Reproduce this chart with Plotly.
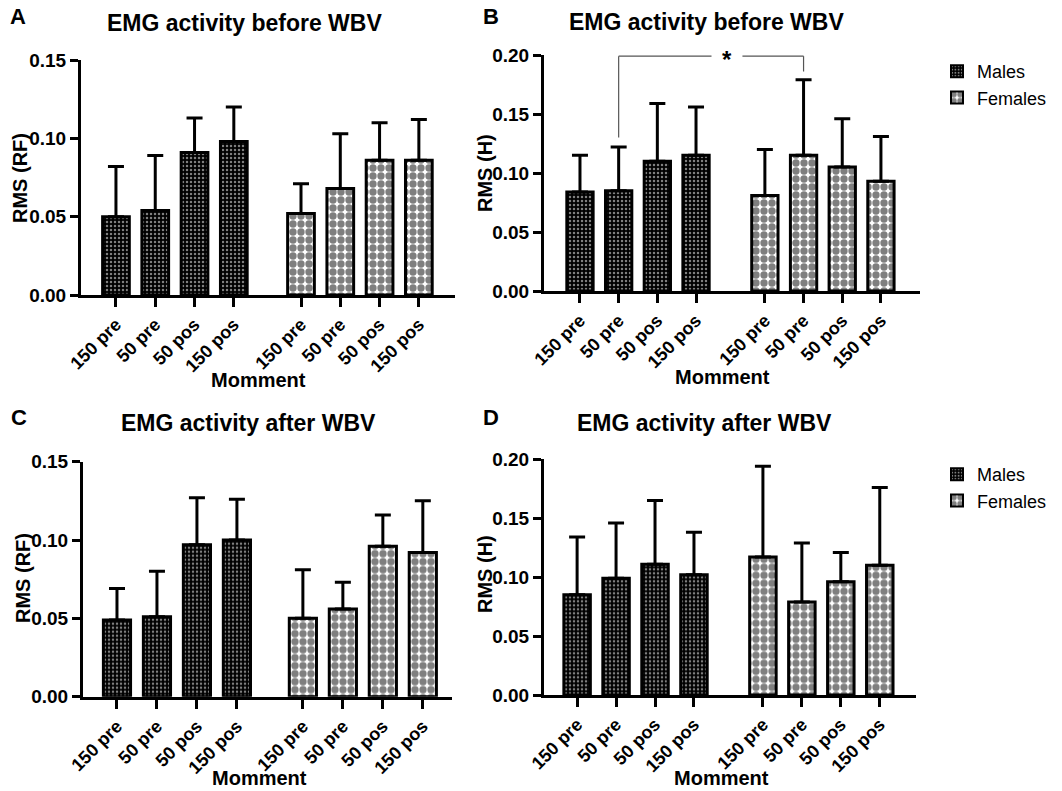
import plotly.graph_objects as go

# ---------------- data ----------------
categories = ["150 pre", "50 pre", "50 pos", "150 pos"]
groups = ["Males", "Females"]

# Panel A: EMG activity before WBV, RMS (RF)
a_males_mean = [0.050, 0.054, 0.091, 0.098]
a_males_sd = [0.032, 0.035, 0.022, 0.022]
a_females_mean = [0.052, 0.068, 0.086, 0.086]
a_females_sd = [0.019, 0.035, 0.024, 0.026]

# Panel B: EMG activity before WBV, RMS (H)
b_males_mean = [0.084, 0.085, 0.110, 0.115]
b_males_sd = [0.031, 0.037, 0.049, 0.041]
b_females_mean = [0.081, 0.115, 0.105, 0.093]
b_females_sd = [0.039, 0.064, 0.041, 0.038]

# Panel C: EMG activity after WBV, RMS (RF)
c_males_mean = [0.049, 0.051, 0.097, 0.100]
c_males_sd = [0.020, 0.029, 0.030, 0.026]
c_females_mean = [0.050, 0.056, 0.096, 0.092]
c_females_sd = [0.031, 0.017, 0.020, 0.033]

# Panel D: EMG activity after WBV, RMS (H)
d_males_mean = [0.085, 0.099, 0.111, 0.102]
d_males_sd = [0.049, 0.047, 0.054, 0.036]
d_females_mean = [0.117, 0.079, 0.096, 0.110]
d_females_sd = [0.077, 0.050, 0.025, 0.066]

y_ticks_rf = [0.00, 0.05, 0.10, 0.15]
y_ticks_h = [0.00, 0.05, 0.10, 0.15, 0.20]

# significance bracket in panel B: Males "50 pre" vs Females "50 pre"
sig_pair = ("50 pre", "50 pre")
sig_label = "*"

# ---------------- styling ----------------
FONT = "Liberation Sans, Arial, sans-serif"
W, H = 1062, 791

panels = [
    dict(key="", letter="A", title="EMG activity before WBV", ytitle="RMS (RF)",
         males=(a_males_mean, a_males_sd), females=(a_females_mean, a_females_sd),
         offset=4.71, xrange=[-0.89, 8.63], ymax=0.15, yticks=y_ticks_rf,
         xdom=[81, 455], ydom=[60, 295], legend=None,
         letter_xy=(18, 17), title_xy=(244, 23), ytitle_xy=(20, 178), xtitle_xy=(258, 380)),
    dict(key="2", letter="B", title="EMG activity before WBV", ytitle="RMS (H)",
         males=(b_males_mean, b_males_sd), females=(b_females_mean, b_females_sd),
         offset=4.78, xrange=[-0.93, 8.79], ymax=0.20, yticks=y_ticks_h,
         xdom=[544, 920], ydom=[55, 291], legend="legend",
         letter_xy=(491, 17), title_xy=(706, 22), ytitle_xy=(485, 173), xtitle_xy=(722, 377)),
    dict(key="3", letter="C", title="EMG activity after WBV", ytitle="RMS (RF)",
         males=(c_males_mean, c_males_sd), females=(c_females_mean, c_females_sd),
         offset=4.65, xrange=[-0.85, 8.38], ymax=0.15, yticks=y_ticks_rf,
         xdom=[83, 452], ydom=[461.7, 696.7], legend=None,
         letter_xy=(19, 418), title_xy=(248, 423), ytitle_xy=(23, 578), xtitle_xy=(259, 778)),
    dict(key="4", letter="D", title="EMG activity after WBV", ytitle="RMS (H)",
         males=(d_males_mean, d_males_sd), females=(d_females_mean, d_females_sd),
         offset=4.77, xrange=[-0.85, 8.7], ymax=0.20, yticks=y_ticks_h,
         xdom=[544, 916], ydom=[459.3, 695], legend="legend2",
         letter_xy=(491, 418), title_xy=(704, 423), ytitle_xy=(485, 574), xtitle_xy=(721, 778)),
]

male_pattern = dict(shape=".", size=4, solidity=0.3, fgcolor="white", bgcolor="black")
female_pattern = dict(shape=".", size=8, solidity=0.66, fgcolor="black", bgcolor="white")

fig = go.Figure()
annotations = []
shapes = []


def px(x):
    return x / W


def py(y):
    return 1 - y / H


def bold(size):
    return dict(family=FONT, size=size, color="black", weight="bold")


for p in panels:
    k = p["key"]
    xm = [i for i in range(len(categories))]
    xf = [i + p["offset"] for i in range(len(categories))]
    for name, (mean, sd), xs, pat in [
        ("Males", p["males"], xm, male_pattern),
        ("Females", p["females"], xf, female_pattern),
    ]:
        fig.add_trace(go.Bar(
            x=xs, y=mean, name=name, width=0.68,
            xaxis="x" + k, yaxis="y" + k,
            marker=dict(color="white", line=dict(color="black", width=3), pattern=pat),
            error_y=dict(type="data", array=sd, arrayminus=[0] * len(sd), symmetric=False,
                         color="black", thickness=3, width=8),
            showlegend=p["legend"] is not None,
            legend=p["legend"] if p["legend"] else "legend",
        ))
    xa = dict(
        domain=[px(p["xdom"][0]), px(p["xdom"][1])], range=p["xrange"],
        anchor="y" + k, showgrid=False, zeroline=False, automargin=False,
        showline=True, linecolor="black", linewidth=3,
        ticks="outside", ticklen=9, tickwidth=3, tickcolor="black",
        tickvals=xm + xf, ticktext=categories + categories, tickangle=-45,
        tickfont=bold(18),
    )
    ya = dict(
        domain=[py(p["ydom"][1]), py(p["ydom"][0])], range=[0, p["ymax"]],
        anchor="x" + k, showgrid=False, zeroline=False, automargin=False,
        showline=True, linecolor="black", linewidth=3,
        ticks="outside", ticklen=8, tickwidth=3, tickcolor="black",
        tickvals=p["yticks"], tickformat=".2f",
        tickfont=bold(19),
    )
    fig.layout["xaxis" + k] = xa
    fig.layout["yaxis" + k] = ya

    annotations.append(dict(text=p["letter"], x=px(p["letter_xy"][0]), y=py(p["letter_xy"][1]),
                            xref="paper", yref="paper", showarrow=False,
                            xanchor="center", yanchor="middle", font=bold(22)))
    annotations.append(dict(text=p["title"], x=px(p["title_xy"][0]), y=py(p["title_xy"][1]),
                            xref="paper", yref="paper", showarrow=False,
                            xanchor="center", yanchor="middle", font=bold(23)))
    annotations.append(dict(text=p["ytitle"], x=px(p["ytitle_xy"][0]), y=py(p["ytitle_xy"][1]),
                            xref="paper", yref="paper", showarrow=False, textangle=-90,
                            xanchor="center", yanchor="middle", font=bold(20)))
    annotations.append(dict(text="Momment", x=px(p["xtitle_xy"][0]), y=py(p["xtitle_xy"][1]),
                            xref="paper", yref="paper", showarrow=False,
                            xanchor="center", yanchor="middle", font=bold(20)))

# significance bracket (panel B)
pb = panels[1]
i_m = categories.index(sig_pair[0])
i_f = categories.index(sig_pair[1])
x_left = i_m
x_right = i_f + pb["offset"]
bm, bsd = pb["males"]
fm, fsd = pb["females"]
y_top = 0.199
y_left_bottom = bm[i_m] + bsd[i_m] + 0.008
y_right_bottom = fm[i_f] + fsd[i_f] + 0.007
x_star = 3.8
gap = 0.4
line_style = dict(color="#555555", width=1.2)
shapes += [
    dict(type="line", xref="x2", yref="y2", x0=x_left, x1=x_left, y0=y_left_bottom, y1=y_top, line=line_style),
    dict(type="line", xref="x2", yref="y2", x0=x_left, x1=x_star - gap, y0=y_top, y1=y_top, line=line_style),
    dict(type="line", xref="x2", yref="y2", x0=x_star + gap, x1=x_right, y0=y_top, y1=y_top, line=line_style),
    dict(type="line", xref="x2", yref="y2", x0=x_right, x1=x_right, y0=y_top, y1=y_right_bottom, line=line_style),
]
annotations.append(dict(text=sig_label, x=x_star, y=y_top, xref="x2", yref="y2", showarrow=False,
                        xanchor="center", yanchor="middle", yshift=-3, font=bold(24)))

legend_common = dict(
    font=dict(family=FONT, size=18, color="black"),
    bgcolor="rgba(0,0,0,0)", borderwidth=0,
    xanchor="left", yanchor="top",
    traceorder="normal", itemsizing="constant",
)

fig.update_layout(
    width=W, height=H,
    margin=dict(l=0, r=0, t=0, b=0, autoexpand=False),
    paper_bgcolor="white", plot_bgcolor="white",
    barmode="overlay",
    annotations=annotations, shapes=shapes,
    legend=dict(x=px(937), y=py(53), **legend_common),
    legend2=dict(x=px(937), y=py(456), **legend_common),
    font=dict(family=FONT, color="black"),
)

fig.write_html(
    "out.html",
    config={"displayModeBar": False},
    post_script="document.body.style.margin='0';document.body.style.overflow='hidden';",
)
